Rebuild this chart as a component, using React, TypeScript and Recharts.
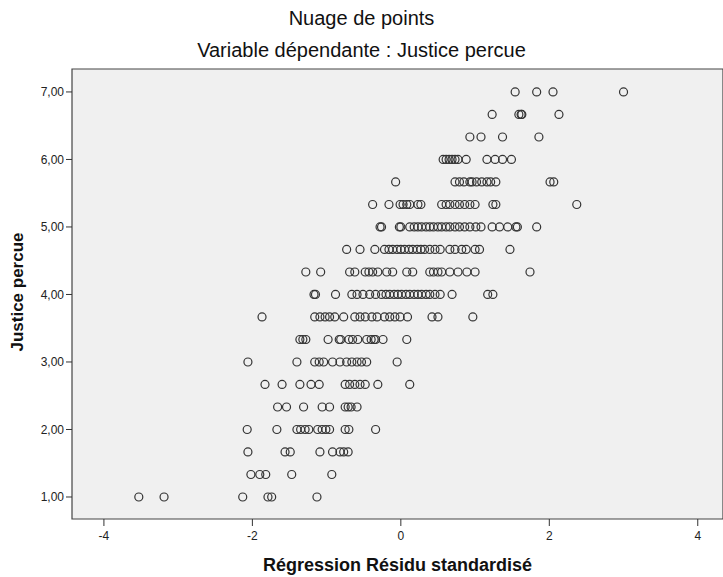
import { ScatterChart, Scatter, XAxis, YAxis, CartesianGrid, ReferenceArea } from 'recharts';

// standardized residual ticks / justice ticks
const xTicks = [-4, -2, 0, 2, 4];
const yTicks = [1, 2, 3, 4, 5, 6, 7];

// residuals, one list per level of "Justice percue"
const res_1_00 = [-3.53, -3.19, -2.13, -1.79, -1.74, -1.13];
const res_1_33 = [-2.02, -1.9, -1.82, -1.47, -0.93];
const res_1_67 = [-2.06, -1.56, -1.49, -1.09, -0.92, -0.82, -0.77, -0.71];
const res_2_00 = [-2.07, -1.67, -1.4, -1.35, -1.29, -1.24, -1.12, -1.06, -1.01, -0.96, -0.75, -0.7, -0.34];
const res_2_33 = [-1.66, -1.54, -1.31, -1.06, -0.96, -0.75, -0.71, -0.67, -0.59];
const res_2_67 = [-1.83, -1.6, -1.36, -1.21, -1.1, -0.75, -0.69, -0.62, -0.55, -0.48, -0.31, 0.12];
const res_3_00 = [-2.06, -1.4, -1.16, -1.1, -1.04, -0.92, -0.82, -0.73, -0.66, -0.59, -0.53, -0.46, -0.05];
const res_3_33 = [-1.36, -1.32, -1.28, -0.98, -0.83, -0.81, -0.7, -0.65, -0.58, -0.46, -0.4, -0.36, -0.34, -0.24, 0.08];
const res_3_67 = [-1.87, -1.16, -1.09, -1.02, -0.96, -0.89, -0.77, -0.62, -0.55, -0.48, -0.39, -0.32, -0.22, -0.15, -0.08, -0.01, 0.09, 0.42, 0.5, 0.97];
const res_4_00 = [-1.17, -1.15, -0.88, -0.66, -0.59, -0.51, -0.42, -0.34, -0.26, -0.2, -0.15, -0.09, -0.04, 0.01, 0.07, 0.12, 0.18, 0.23, 0.28, 0.34, 0.39, 0.46, 0.53, 0.69, 1.17, 1.24];
const res_4_33 = [-1.28, -1.08, -0.69, -0.62, -0.48, -0.43, -0.38, -0.31, -0.19, -0.11, 0.08, 0.16, 0.39, 0.44, 0.5, 0.55, 0.66, 0.77, 0.89, 1.0, 1.74];
const res_4_67 = [-0.73, -0.55, -0.35, -0.22, -0.16, -0.11, -0.05, 0.0, 0.05, 0.11, 0.16, 0.22, 0.27, 0.32, 0.39, 0.46, 0.53, 0.66, 0.73, 0.82, 0.88, 1.0, 1.06, 1.47];
const res_5_00 = [-0.28, -0.26, -0.02, 0.0, 0.12, 0.18, 0.23, 0.28, 0.34, 0.39, 0.44, 0.5, 0.55, 0.61, 0.66, 0.73, 0.79, 0.86, 0.93, 1.01, 1.08, 1.23, 1.33, 1.44, 1.55, 1.57, 1.83];
const res_5_33 = [-0.38, -0.16, -0.01, 0.03, 0.08, 0.12, 0.23, 0.27, 0.55, 0.61, 0.66, 0.73, 0.79, 0.86, 0.93, 1.0, 1.24, 1.28, 2.37];
const res_5_67 = [-0.07, 0.73, 0.79, 0.85, 0.93, 0.96, 1.02, 1.09, 1.16, 1.21, 1.28, 2.01, 2.06];
const res_6_00 = [0.57, 0.61, 0.65, 0.69, 0.73, 0.77, 0.88, 1.16, 1.27, 1.37, 1.49];
const res_6_33 = [0.93, 1.08, 1.37, 1.86];
const res_6_67 = [1.23, 1.59, 1.62, 1.63, 2.13];
const res_7_00 = [1.54, 1.83, 2.05, 3.0];

const levels: [number, number[]][] = [
  [1, res_1_00],
  [1.333, res_1_33],
  [1.667, res_1_67],
  [2, res_2_00],
  [2.333, res_2_33],
  [2.667, res_2_67],
  [3, res_3_00],
  [3.333, res_3_33],
  [3.667, res_3_67],
  [4, res_4_00],
  [4.333, res_4_33],
  [4.667, res_4_67],
  [5, res_5_00],
  [5.333, res_5_33],
  [5.667, res_5_67],
  [6, res_6_00],
  [6.333, res_6_33],
  [6.667, res_6_67],
  [7, res_7_00],
];

const points = levels.flatMap(([y, xs]) => xs.map((x) => ({ x, y })));

const X_DOMAIN: [number, number] = [-4.43, 4.34];
const Y_DOMAIN: [number, number] = [0.674, 7.34];

const FONT = '"Liberation Sans", Arial, sans-serif';
const tickStyle = { fill: '#222', fontSize: 12, fontFamily: FONT };

const Ring = (props: any) => (
  <circle cx={props.cx} cy={props.cy} r={4} fill="none" stroke="#333" strokeWidth={1.2} />
);

export default function App() {
  return (
    <div style={{ position: 'absolute', left: 0, top: 0, width: 723, height: 577, background: '#fff', fontFamily: FONT, color: '#111' }}>
      <div style={{ position: 'absolute', top: 7, left: 0, width: 723, textAlign: 'center', fontSize: 20, lineHeight: '22px' }}>
        Nuage de points
      </div>
      <div style={{ position: 'absolute', top: 39, left: 0, width: 723, textAlign: 'center', fontSize: 20, lineHeight: '22px' }}>
        Variable dépendante : Justice percue
      </div>
      <ScatterChart width={723} height={577} margin={{ top: 69, right: 0, bottom: 0, left: 0 }}>
        <CartesianGrid fill="#F0F0F0" horizontal={false} vertical={false} />
        <XAxis
          type="number"
          dataKey="x"
          domain={X_DOMAIN}
          ticks={xTicks}
          allowDataOverflow
          height={58}
          axisLine={false}
          tickLine={{ stroke: '#333' }}
          tickSize={7}
          tickMargin={5}
          tick={tickStyle}
        />
        <YAxis
          type="number"
          dataKey="y"
          domain={Y_DOMAIN}
          ticks={yTicks}
          allowDataOverflow
          width={72}
          axisLine={false}
          tickLine={{ stroke: '#333' }}
          tickSize={6}
          tickMargin={2}
          tick={tickStyle}
          tickFormatter={(v: number) => v.toFixed(2).replace('.', ',')}
        />
        <ReferenceArea x1={X_DOMAIN[0]} x2={X_DOMAIN[1]} y1={Y_DOMAIN[0]} y2={Y_DOMAIN[1]} fill="none" stroke="#444" strokeWidth={1.2} />
        <Scatter data={points} shape={Ring} isAnimationActive={false} />
      </ScatterChart>
      <div style={{ position: 'absolute', top: 555, left: 72, width: 651, textAlign: 'center', fontSize: 18, fontWeight: 'bold', lineHeight: '20px' }}>
        Régression Résidu standardisé
      </div>
      <div style={{ position: 'absolute', left: 18, top: 292, width: 0, height: 0 }}>
        <div style={{ position: 'absolute', left: -100, top: -10, width: 200, textAlign: 'center', transform: 'rotate(-90deg)', fontSize: 17, fontWeight: 'bold', lineHeight: '20px' }}>
          Justice percue
        </div>
      </div>
    </div>
  );
}
